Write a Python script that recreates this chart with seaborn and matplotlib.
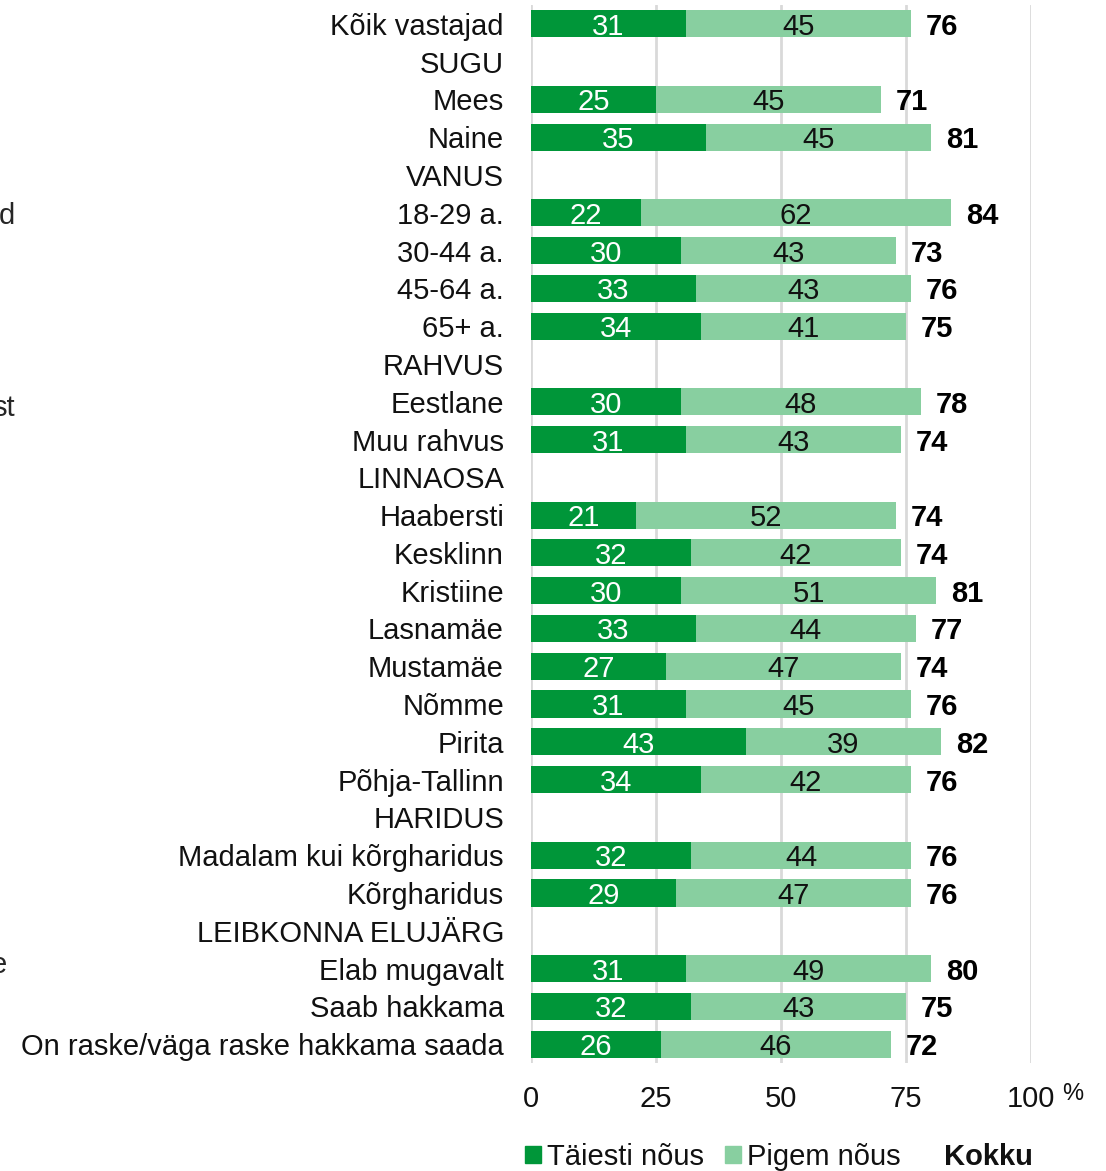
import pandas as pd
import seaborn as sns
import matplotlib.pyplot as plt
from matplotlib.patches import Patch

# chart data (None = group header row, no bar)
labels = ["Kõik vastajad", "SUGU", "Mees", "Naine", "VANUS", "18-29 a.", "30-44 a.",
          "45-64 a.", "65+ a.", "RAHVUS", "Eestlane", "Muu rahvus", "LINNAOSA",
          "Haabersti", "Kesklinn", "Kristiine", "Lasnamäe", "Mustamäe", "Nõmme",
          "Pirita", "Põhja-Tallinn", "HARIDUS", "Madalam kui kõrgharidus",
          "Kõrgharidus", "LEIBKONNA ELUJÄRG", "Elab mugavalt", "Saab hakkama",
          "On raske/väga raske hakkama saada"]
taiesti = [31, None, 25, 35, None, 22, 30, 33, 34, None, 30, 31, None,
           21, 32, 30, 33, 27, 31, 43, 34, None, 32, 29, None, 31, 32, 26]
pigem = [45, None, 45, 45, None, 62, 43, 43, 41, None, 48, 43, None,
         52, 42, 51, 44, 47, 45, 39, 42, None, 44, 47, None, 49, 43, 46]
kokku = [76, None, 71, 81, None, 84, 73, 76, 75, None, 78, 74, None,
         74, 74, 81, 77, 74, 76, 82, 76, None, 76, 76, None, 80, 75, 72]
ticks = [0, 25, 50, 75, 100]
series_names = ["Täiesti nõus", "Pigem nõus", "Kokku"]

dark = "#009639"
light = "#88CFA0"
fs = 21

sns.set_style("white")
plt.rcParams['font.family'] = ['Liberation Sans', 'DejaVu Sans']

df = pd.DataFrame({"label": labels, "t": taiesti, "p": pigem, "k": kokku})
bars = df.dropna().copy()
bars["sum"] = bars["t"] + bars["p"]

fig = plt.figure(figsize=(11.06, 11.71), dpi=100)
ax = fig.add_axes([531 / 1106, 108 / 1171, 500 / 1106, 1058 / 1171])

sns.barplot(data=bars, x="sum", y="label", order=labels, color=light,
            width=0.72, saturation=1, linewidth=0, ax=ax, zorder=3)
sns.barplot(data=bars, x="t", y="label", order=labels, color=dark,
            width=0.72, saturation=1, linewidth=0, ax=ax, zorder=4)

pos = {lab: i for i, lab in enumerate(labels)}
for _, r in bars.iterrows():
    y = pos[r["label"]]
    ax.text(r["t"] / 2, y, f"{int(r['t'])}", ha="center", va="center_baseline",
            color="white", fontsize=fs, zorder=5)
    ax.text(r["t"] + r["p"] / 2, y, f"{int(r['p'])}", ha="center", va="center_baseline",
            color="#111111", fontsize=fs, zorder=5)
    ax.text(r["sum"] + 3, y, f"{int(r['k'])}", ha="left", va="center_baseline",
            color="black", fontsize=fs, fontweight="bold", zorder=5)

ax.set_xlim(0, 100)
ax.set_ylim(len(labels) - 0.5, -0.5)
ax.set_xticks(ticks)
ax.set_xticklabels([str(t) for t in ticks])
ax.xaxis.grid(True, color="#d9d9d9", linewidth=2)
ax.set_axisbelow(True)
ax.tick_params(axis="x", length=0, pad=16, labelsize=fs, labelcolor="#111111")
ax.tick_params(axis="y", length=0, pad=27 * 0.72, labelsize=fs, labelcolor="#111111")
ax.set_xlabel("")
ax.set_ylabel("")
for s in ax.spines.values():
    s.set_visible(False)

fig.text(1073 / 1106, 1 - 1094 / 1171, "%", fontsize=17, ha="center", va="center", color="#111111")

# cut-off labels from neighbouring chart
fig.text(15 / 1106, 1 - 216 / 1171, "d", fontsize=fs, ha="right", va="center")
fig.text(15 / 1106, 1 - 408 / 1171, "st", fontsize=fs, ha="right", va="center")
fig.text(7 / 1106, 1 - 965 / 1171, "e", fontsize=fs, ha="right", va="center")

handles = [Patch(color=dark), Patch(color=light), Patch(color="none")]
leg = fig.legend(handles, series_names, ncol=3, frameon=False, fontsize=fs,
                 loc="center left", bbox_to_anchor=(499 / 1106, 1 - 1157 / 1171),
                 handlelength=0.55, handleheight=0.55, handletextpad=0.2,
                 columnspacing=0.72)
for t in leg.get_texts():
    t.set_color("#111111")
leg.get_texts()[2].set_fontweight("bold")

fig.savefig("out.png", dpi=100)
